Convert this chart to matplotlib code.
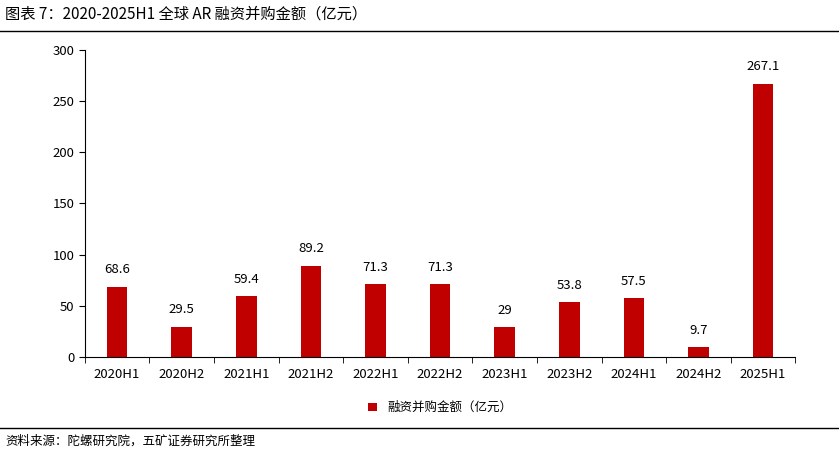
import matplotlib.pyplot as plt
import numpy as np

plt.rcParams['font.family'] = ['Noto Sans CJK SC', 'DejaVu Sans']

periods = ["2020H1", "2020H2", "2021H1", "2021H2", "2022H1", "2022H2",
           "2023H1", "2023H2", "2024H1", "2024H2", "2025H1"]
amounts = [68.6, 29.5, 59.4, 89.2, 71.3, 71.3, 29, 53.8, 57.5, 9.7, 267.1]
labels = ["68.6", "29.5", "59.4", "89.2", "71.3", "71.3", "29", "53.8", "57.5", "9.7", "267.1"]

fig = plt.figure(figsize=(8.39, 4.54), dpi=100)
ax = fig.add_axes([0.101, 0.214, 0.847, 0.676])

x = np.arange(len(periods))
bars = ax.bar(x, amounts, width=0.32, color="#C00000", label="融资并购金额（亿元）")
for xi, v, t in zip(x, amounts, labels):
    ax.text(xi, v + 10, t, ha="center", va="bottom", fontsize=9.5)

ax.set_xlim(-0.5, len(periods) - 0.5)
ax.set_ylim(0, 300)
ax.set_yticks(range(0, 301, 50))
ax.set_xticks(x)
ax.set_xticklabels(periods, fontsize=9.5)
ax.set_xticks(np.arange(-0.5, len(periods)), minor=True)
ax.tick_params(axis="x", which="major", length=0, pad=8)
ax.tick_params(axis="x", which="minor", length=4)
ax.tick_params(axis="y", labelsize=9.5, length=4)
for s in ("top", "right"):
    ax.spines[s].set_visible(False)

ax.legend(loc="center", bbox_to_anchor=(0.5, -0.166), frameon=False,
          fontsize=9, handlelength=0.7, handleheight=0.7)

fig.text(0.006, 0.968, "图表 7：2020-2025H1 全球 AR 融资并购金额（亿元）",
         fontsize=11, va="center", ha="left")
fig.add_artist(plt.Line2D([0, 1], [0.932, 0.932], color="black", lw=1))
fig.add_artist(plt.Line2D([0, 1], [0.057, 0.057], color="black", lw=1))
fig.text(0.006, 0.028, "资料来源：陀螺研究院，五矿证券研究所整理",
         fontsize=9, va="center", ha="left")

fig.savefig("out.png", dpi=100)
